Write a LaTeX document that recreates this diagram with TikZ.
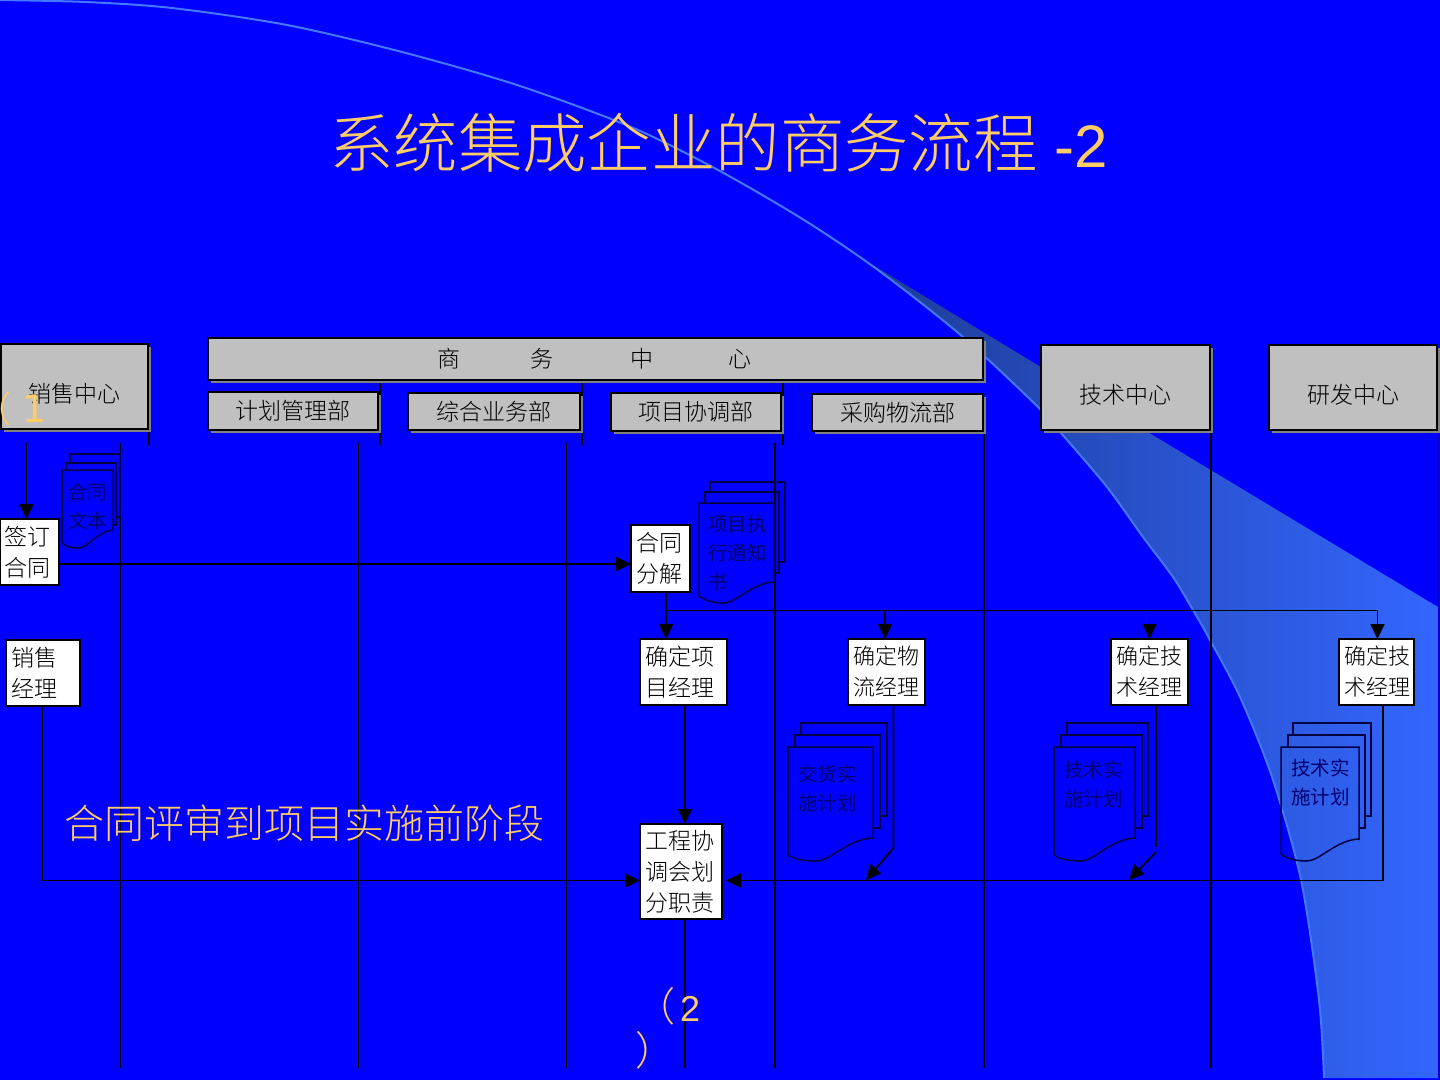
\documentclass[tikz,border=0pt]{standalone}
\usepackage{fontspec}
\setmainfont{Liberation Sans}
\newfontfamily\cjk{Noto Sans CJK SC}[UprightFont=* Light]
\newfontfamily\cjkreg{Noto Sans CJK SC}
\newfontfamily\dejavu{DejaVu Sans}
\usetikzlibrary{arrows.meta,shadows,calc}
\definecolor{bgblue}{HTML}{0000FF}
\definecolor{orangetxt}{HTML}{FFCC66}
\definecolor{hdrgray}{HTML}{C0C0C0}
\definecolor{shadowgray}{HTML}{808080}
\definecolor{docink}{HTML}{000070}
\definecolor{bandl}{HTML}{1E3C96}
\definecolor{bandr}{HTML}{3366FF}
\definecolor{arcline}{HTML}{4478FF}
\definecolor{edgestrip}{HTML}{0000C8}
\tikzset{
  x=1pt,y=-1pt,
  hdr/.style={draw=black,line width=1.2pt,fill=hdrgray,inner sep=0pt,outer sep=0pt,text=black,
    general shadow={fill=shadowgray,shadow xshift=3pt,shadow yshift=-3pt},
    font=\cjk\fontsize{23}{28}\selectfont},
  wbox/.style={draw=black,line width=1.2pt,fill=white,inner xsep=5pt,inner ysep=0pt,outer sep=0pt,align=left,text=black,
    font=\cjk\fontsize{23}{31}\selectfont},
  doctext/.style={inner sep=0pt,align=left,text=docink,font=\cjkreg\fontsize{19.5}{29}\selectfont},
  docline/.style={draw=docink!60!black,line width=1.5pt,line join=miter},
  lane/.style={draw=black,line width=1.7pt},
  lanethick/.style={draw=black,line width=2.4pt},
  flow/.style={draw=black,line width=1.7pt,-{Triangle[length=15pt,width=14pt]}},
  flowthick/.style={draw=black,line width=2.4pt,-{Triangle[length=15pt,width=14pt]}},
  plain/.style={draw=black,line width=1.7pt},
  orangelabel/.style={text=orangetxt,inner sep=0pt,anchor=west,align=left},
}
% box given by corners: name, x1, y1, x2, y2, style, text
\newcommand{\cornerbox}[7]{%
  \pgfmathsetmacro{\cbw}{#4-#2}\pgfmathsetmacro{\cbh}{#5-#3}%
  \pgfmathsetmacro{\cbx}{(#2+#4)/2}\pgfmathsetmacro{\cby}{(#3+#5)/2}%
  \node[#6,minimum width=\cbw pt,minimum height=\cbh pt] (#1) at (\cbx,\cby) {#7};}
\newcommand{\textbox}[6]{%
  \pgfmathsetmacro{\cbw}{#4-#2}\pgfmathsetmacro{\cbh}{#5-#3}%
  \pgfmathsetmacro{\cbx}{(#2+#4)/2}\pgfmathsetmacro{\cby}{(#3+#5)/2}%
  \pgfmathsetmacro{\cbt}{\cbw-10}%
  \node[wbox,text width=\cbt pt,minimum height=\cbh pt] (#1) at (\cbx,\cby) {#6};}
\newcommand{\lowtext}[1]{\raisebox{-16pt}[0pt][0pt]{#1}}
\newcommand{\smallbox}{\fontsize{22}{31}\selectfont}
% document front: left, top, right, right-bottom, left-bottom, lowest
\newcommand{\docfront}[6]{%
  \pgfmathsetmacro{\dw}{#3-#1}%
  \pgfmathsetmacro{\da}{#3-0.30*\dw}\pgfmathsetmacro{\db}{#1+0.50*\dw}%
  \pgfmathsetmacro{\dc}{#1+0.33*\dw}\pgfmathsetmacro{\dd}{#1+0.15*\dw}%
  \draw[docline] (#1,#2) -- (#3,#2) -- (#3,#4)
    .. controls (\da,#4+1) and (\db,#6) .. (\dc,#6)
    .. controls (\dd,#6) and (#1+4,#5+3) .. (#1,#5) -- cycle;}
\begin{document}
\begin{tikzpicture}
\useasboundingbox (0,0) rectangle (1440,1080);
\clip (0,0) rectangle (1440,1080);
\fill[bgblue] (0,0) rectangle (1440,1080);
% background swoosh
\shade[left color=bandl,right color=bandr]
  plot[smooth] coordinates {(868,262) (963,337) (1038,407) (1061,433) (1107,487) (1143,537) (1173,577) (1193,610) (1210,640) (1240,697) (1272,777) (1301,880) (1319,1000) (1324,1078)}
  -- (1438,1078) -- (1438,607) -- (1151,434) -- cycle;
\draw[arcline,line width=2pt]
  plot[smooth] coordinates {(0,0) (86,2) (172,8) (287,25) (402,52) (517,85) (631,127) (718,170) (804,220) (878,270) (963,337) (1038,407) (1061,433) (1107,487) (1143,537) (1173,577) (1193,610) (1210,640) (1240,697) (1272,777) (1301,880) (1319,1000) (1324,1078)};
% title
\node[orangelabel] (title) at (329,143) {\fontsize{64.4}{70}\selectfont{\cjk 系统集成企业的商务流程}\hspace{17pt}{\fontsize{60}{70}\selectfont -2}};
% lanes
\foreach \n/\xx/\ya/\yb in {a/120.5/443/1068,b/358.5/443/1068,c/566.5/443/1068,d/775/443/1068,f/1211/432/1068}{
  \coordinate (lane\n t) at (\xx,\ya); \coordinate (lane\n b) at (\xx,\yb);
  \draw[lane] (lane\n t) -- (lane\n b);}
\coordinate (laneet) at (984,432); \coordinate (laneeb) at (984,1068);
\draw[lanethick] (laneet) -- (laneeb);
\foreach \n/\xx/\ya/\yb in {g/149/430/445,h/380/382/445,i/582/382/445,j/783/382/445}{
  \coordinate (tick\n t) at (\xx,\ya); \coordinate (tick\n b) at (\xx,\yb);
  \draw[lane] (tick\n t) -- (tick\n b);}
\coordinate (stript) at (1438.5,432); \coordinate (stripb) at (1438.5,1078);
\draw[edgestrip,line width=1pt] (stript) -- (stripb);
% headers
\cornerbox{hsale}{1}{344}{148}{429}{hdr}{\lowtext{销售中心}}
\cornerbox{hbiz}{208}{338}{983}{380}{hdr}{}
\node[text=black,font=\cjk\fontsize{23}{28}\selectfont,inner sep=0pt] (hbiza) at (449,359) {商};
\node[text=black,font=\cjk\fontsize{23}{28}\selectfont,inner sep=0pt] (hbizb) at (542,359) {务};
\node[text=black,font=\cjk\fontsize{23}{28}\selectfont,inner sep=0pt] (hbizc) at (642,359) {中};
\node[text=black,font=\cjk\fontsize{23}{28}\selectfont,inner sep=0pt] (hbizd) at (740,359) {心};
\cornerbox{hplan}{208}{392}{378}{430}{hdr}{计划管理部}
\cornerbox{hgen}{408}{393}{580}{430}{hdr}{综合业务部}
\cornerbox{hproj}{611}{393}{781}{431}{hdr}{项目协调部}
\cornerbox{hbuy}{812}{394}{983}{431}{hdr}{采购物流部}
\cornerbox{htech}{1041}{345}{1210}{430}{hdr}{\lowtext{技术中心}}
\cornerbox{hrd}{1269}{345}{1437}{430}{hdr}{\lowtext{研发中心}}
% label over the header
\node[orangelabel,font=\cjk\fontsize{36}{42}\selectfont] (lab1) at (2,409) {\hspace*{-27pt}（\hspace{11pt}{\dejavu\fontsize{38}{42}\selectfont 1}};
% documents
\draw[docline] (66,470) -- (66,463) -- (116,463) -- (116,525) -- (113,525);
\draw[docline] (70,463) -- (70,454) -- (120,454) -- (120,517) -- (116,517);
\docfront{62}{470}{113}{530}{543}{548}
\node[doctext,anchor=north west] (d1) at (68,483) {合同\\文本};
\draw[docline] (705,503) -- (705,492) -- (779,492) -- (779,573) -- (774,573);
\draw[docline] (710,492) -- (710,482) -- (785,482) -- (785,562) -- (779,562);
\docfront{699}{503}{774}{582}{596}{603}
\node[doctext,anchor=north west] (d2) at (708,514.5) {项目执\\行通知\\书};
\draw[docline] (795,747) -- (795,735) -- (880,735) -- (880,828) -- (873,828);
\draw[docline] (801,735) -- (801,723) -- (887,723) -- (887,816) -- (880,816);
\docfront{788}{747}{873}{838}{855}{861}
\node[doctext,anchor=north west] (d3) at (798,765) {交货实\\施计划};
\draw[docline] (1061,747) -- (1061,735) -- (1142,735) -- (1142,828) -- (1135,828);
\draw[docline] (1067,735) -- (1067,723) -- (1148,723) -- (1148,816) -- (1142,816);
\docfront{1054}{747}{1135}{838}{855}{861}
\node[doctext,anchor=north west] (d4) at (1064,760.5) {技术实\\施计划};
\draw[docline] (1288,747) -- (1288,735) -- (1365,735) -- (1365,828) -- (1359,828);
\draw[docline] (1293,735) -- (1293,723) -- (1371,723) -- (1371,816) -- (1365,816);
\docfront{1281}{747}{1359}{839}{854}{861}
\node[doctext,anchor=north west] (d5) at (1291,759) {技术实\\施计划};
% process boxes
\textbox{sign}{0}{519}{59}{585}{签订\\合同}
\textbox{split}{631}{525}{690}{592}{合同\\分解}
\textbox{salem}{6}{640}{80}{706}{销售\\经理}
\textbox{pm}{640}{639}{727}{705}{确定项\\目经理}
\textbox{lm}{848}{639}{925}{705}{\smallbox 确定物\\流经理}
\textbox{tm}{1111}{639}{1188}{705}{\smallbox 确定技\\术经理}
\textbox{rm}{1339}{639}{1414}{705}{\smallbox 确定技\\术经理}
\textbox{meet}{640}{824}{722}{919}{工程协\\调会划\\分职责}
% connector helpers
\coordinate (c27) at (26.5,0); \coordinate (c42) at (42.5,0); \coordinate (c666) at (666,0);
\coordinate (c685) at (685,0); \coordinate (c885) at (885,0); \coordinate (c893) at (893.5,0);
\coordinate (c1149) at (1149.5,0); \coordinate (c1156) at (1156,0); \coordinate (c1377) at (1377.5,0);
\coordinate (c1383) at (1383,0);
\coordinate (salestart) at (26.5,443);
\coordinate (bus) at (666,610.5);
\coordinate (rail) at (0,880.5);
\coordinate (lmbend) at (893.5,848); \coordinate (lmend) at (866,880);
\coordinate (tmbreak) at (1156,847); \coordinate (tmbend) at (1156,852); \coordinate (tmend) at (1129,880);
\coordinate (meettail) at (685,1068);
% connectors
\draw[flow] (salestart) -- (sign.north -| c27);
\draw[flowthick] (sign.east |- 0,564) -- (split.west |- 0,564);
\draw[flowthick] (split.south -| c666) -- (pm.north -| c666);
\draw[plain] (bus) -- (c1377 |- bus);
\draw[flow] (c885 |- bus) -- (lm.north -| c885);
\draw[flow] (c1149 |- bus) -- (tm.north -| c1149);
\draw[flow] (c1377 |- bus) -- (rm.north -| c1377);
\draw[flow] (pm.south -| c685) -- (meet.north -| c685);
\draw[plain] (meet.south -| c685) -- (meettail);
\draw[flow] (lm.south -| c893) -- (lmbend) -- (lmend);
\draw[plain] (tm.south -| c1156) -- (tmbreak);
\draw[flow] (tmbend) -- (tmend);
\draw[flow] (salem.south -| c42) -- (c42 |- rail) -- (meet.west |- rail);
\draw[flow] (c1383 |- rail) -- ([xshift=4pt]meet.east |- rail);
\draw[line width=2.4pt,black] (rm.south -| c1383) -- (c1383 |- rail);
% labels
\node[orangelabel,font=\cjk\fontsize{40}{46}\selectfont] (phase) at (64,823) {合同评审到项目实施前阶段};
\node[orangelabel,font=\cjk\fontsize{40}{44}\selectfont,anchor=north west] (lab2) at (635,987) {（\hspace{5pt}{\rmfamily\fontsize{36}{44}\selectfont 2}\\）};
\end{tikzpicture}
\end{document}
